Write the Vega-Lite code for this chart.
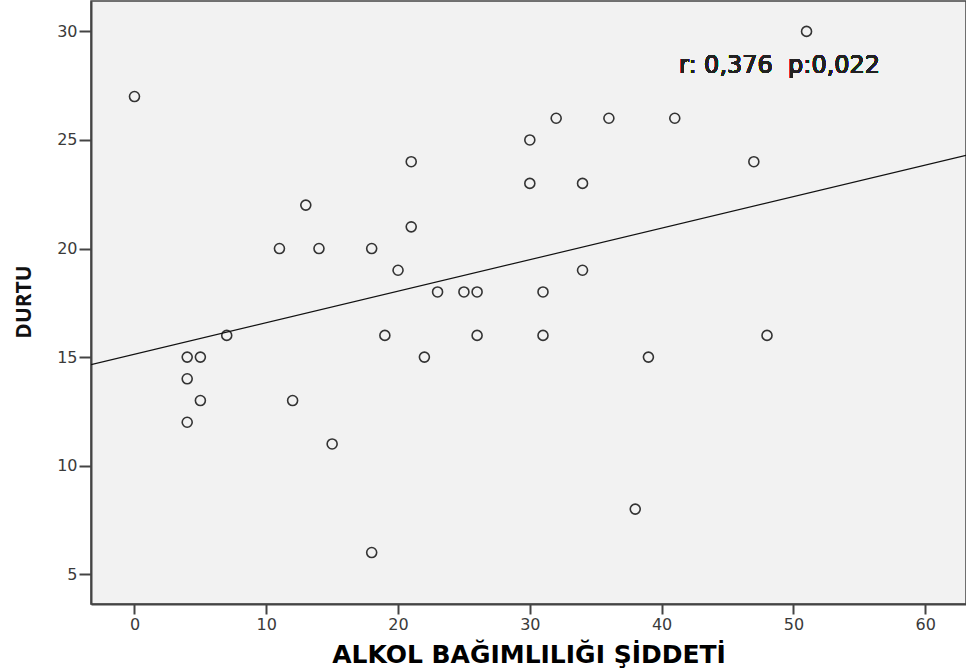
{
  "$schema": "https://vega.github.io/schema/vega-lite/v6.json",
  "width": 875,
  "height": 603,
  "autosize": {"type": "none"},
  "padding": {"left": 91, "top": 1, "right": 0, "bottom": 67},
  "background": "white",
  "config": {
    "view": {"fill": "#f2f2f2", "stroke": "#444444", "strokeWidth": 1.5},
    "axis": {
      "grid": false,
      "domainColor": "#444444",
      "domainWidth": 2,
      "tickColor": "#444444",
      "tickWidth": 2,
      "labelFont": "DejaVu Sans",
      "labelFontSize": 16,
      "labelColor": "#3a3a3a",
      "titleFont": "Open Sans",
      "titleFontWeight": "bold",
      "titleColor": "#111111"
    }
  },
  "data": {
    "values": [
      {"ALKOL": 0, "DURTU": 27},
      {"ALKOL": 4, "DURTU": 15},
      {"ALKOL": 5, "DURTU": 15},
      {"ALKOL": 4, "DURTU": 14},
      {"ALKOL": 5, "DURTU": 13},
      {"ALKOL": 4, "DURTU": 12},
      {"ALKOL": 7, "DURTU": 16},
      {"ALKOL": 11, "DURTU": 20},
      {"ALKOL": 12, "DURTU": 13},
      {"ALKOL": 13, "DURTU": 22},
      {"ALKOL": 14, "DURTU": 20},
      {"ALKOL": 15, "DURTU": 11},
      {"ALKOL": 18, "DURTU": 20},
      {"ALKOL": 18, "DURTU": 6},
      {"ALKOL": 19, "DURTU": 16},
      {"ALKOL": 20, "DURTU": 19},
      {"ALKOL": 21, "DURTU": 24},
      {"ALKOL": 21, "DURTU": 21},
      {"ALKOL": 22, "DURTU": 15},
      {"ALKOL": 23, "DURTU": 18},
      {"ALKOL": 25, "DURTU": 18},
      {"ALKOL": 26, "DURTU": 18},
      {"ALKOL": 26, "DURTU": 16},
      {"ALKOL": 30, "DURTU": 25},
      {"ALKOL": 30, "DURTU": 23},
      {"ALKOL": 31, "DURTU": 18},
      {"ALKOL": 31, "DURTU": 16},
      {"ALKOL": 32, "DURTU": 26},
      {"ALKOL": 34, "DURTU": 23},
      {"ALKOL": 34, "DURTU": 19},
      {"ALKOL": 36, "DURTU": 26},
      {"ALKOL": 38, "DURTU": 8},
      {"ALKOL": 39, "DURTU": 15},
      {"ALKOL": 41, "DURTU": 26},
      {"ALKOL": 47, "DURTU": 24},
      {"ALKOL": 48, "DURTU": 16},
      {"ALKOL": 51, "DURTU": 30}
    ]
  },
  "layer": [
    {
      "mark": {"type": "point", "shape": "circle", "filled": false, "size": 100, "stroke": "#333333", "strokeWidth": 1.6, "opacity": 1},
      "encoding": {
        "x": {
          "field": "ALKOL", "type": "quantitative",
          "scale": {"domain": [-3.3, 63.1], "nice": false, "zero": false},
          "axis": {
            "title": "ALKOL BAĞIMLILIĞI ŞİDDETİ",
            "titleFont": "DejaVu Sans",
            "titleFontSize": 25,
            "titleColor": "#000000",
            "values": [0, 10, 20, 30, 40, 50, 60],
            "tickSize": 10,
            "labelPadding": 2,
            "titleBaseline": "alphabetic",
            "titleY": 58
          }
        },
        "y": {
          "field": "DURTU", "type": "quantitative",
          "scale": {"domain": [3.63, 31.4], "nice": false, "zero": false},
          "axis": {
            "title": "DURTU",
            "titleFontSize": 21,
            "values": [5, 10, 15, 20, 25, 30],
            "tickSize": 12,
            "labelPadding": 2,
            "titleBaseline": "alphabetic",
            "titleX": -61,
            "titleY": 300.5
          }
        }
      }
    },
    {
      "transform": [
        {"regression": "DURTU", "on": "ALKOL", "extent": [-3.3, 63.1]}
      ],
      "mark": {"type": "line", "color": "#111111", "strokeWidth": 1.2, "clip": true},
      "encoding": {
        "x": {"field": "ALKOL", "type": "quantitative"},
        "y": {"field": "DURTU", "type": "quantitative"}
      }
    },
    {
      "mark": {"type": "text", "align": "center", "baseline": "alphabetic", "font": "DejaVu Sans", "fontWeight": "normal", "fontSize": 24, "fill": "#222222", "strokeWidth": 0},
      "encoding": {
        "x": {"datum": 48.95, "type": "quantitative"},
        "y": {"datum": 28.07, "type": "quantitative"},
        "text": {"value": "r: 0,376\u00a0\u00a0p:0,022"}
      }
    }
  ]
}
